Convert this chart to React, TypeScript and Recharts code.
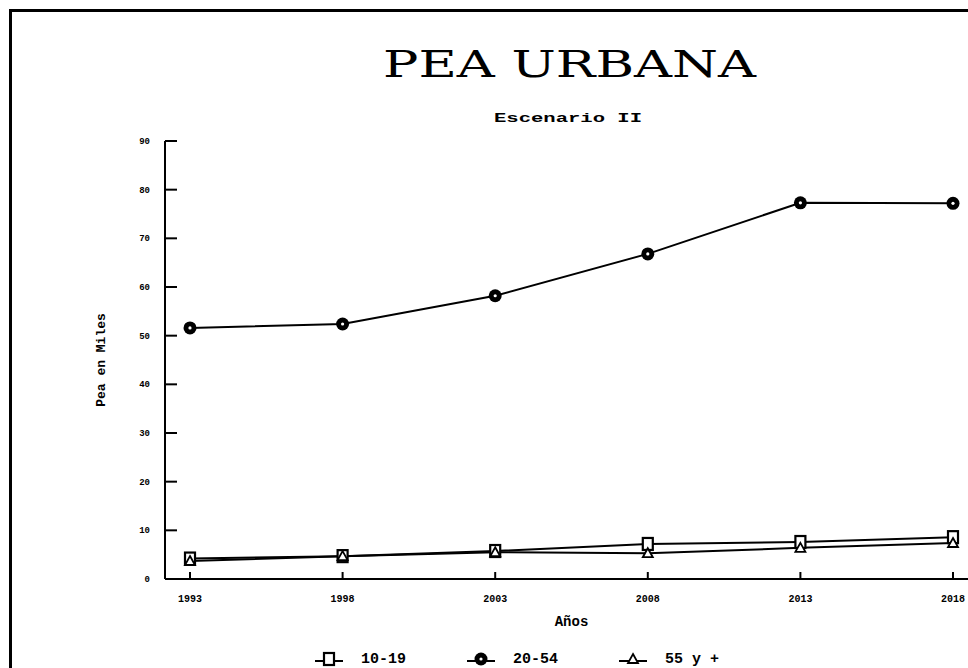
import React from "react";
import { Legend, Line, LineChart, XAxis, YAxis } from "recharts";

const years = ["1993", "1998", "2003", "2008", "2013", "2018"];
const edad1019 = [4.2, 4.7, 5.75, 7.2, 7.6, 8.6];
const edad2054 = [51.6, 52.4, 58.2, 66.8, 77.3, 77.2];
const edad55 = [3.7, 4.7, 5.5, 5.3, 6.4, 7.4];
const yTicks = [0, 10, 20, 30, 40, 50, 60, 70, 80, 90];

const series = [
  { key: "a", name: "10-19", shape: "square" },
  { key: "b", name: "20-54", shape: "circle" },
  { key: "c", name: "55 y +", shape: "triangle" },
];

const data = years.map((year, i) => ({
  year,
  a: edad1019[i],
  b: edad2054[i],
  c: edad55[i],
}));

const mono = "'Liberation Mono', 'DejaVu Sans Mono', monospace";

function Mark({ shape, cx, cy }: { shape: string; cx: number; cy: number }) {
  if (shape === "square")
    return <rect x={cx - 5} y={cy - 6} width={10} height={12} fill="#fff" stroke="#000" strokeWidth={2.2} />;
  if (shape === "circle")
    return (
      <g>
        <circle cx={cx} cy={cy} r={6.5} fill="#000" />
        <circle cx={cx} cy={cy} r={1.6} fill="#fff" />
      </g>
    );
  return <path d={`M${cx},${cy - 5}L${cx + 5},${cy + 4}L${cx - 5},${cy + 4}Z`} fill="#fff" stroke="#000" strokeWidth={1.8} />;
}

const YTick = (props: any) => {
  const { x, y, payload } = props;
  return (
    <g>
      {payload.value > 0 && <line x1={x + 15} x2={x + 27} y1={y} y2={y} stroke="#000" strokeWidth={2} />}
      <text x={x} y={y} dy={3} textAnchor="end" fontFamily={mono} fontWeight="bold" fontSize={9} fill="#000">
        {payload.value}
      </text>
    </g>
  );
};

const XTick = (props: any) => {
  const { x, y, payload } = props;
  return (
    <g>
      <line x1={x} x2={x} y1={y - 14} y2={y - 21} stroke="#000" strokeWidth={2} />
      <text x={x} y={y} dy={9} textAnchor="middle" fontFamily={mono} fontWeight="bold" fontSize={10} fill="#000">
        {payload.value}
      </text>
    </g>
  );
};

const LegendContent = () => (
  <svg width={460} height={24}>
    {series.map((s, i) => {
      const x0 = i * 152;
      return (
        <g key={s.key}>
          <line x1={x0} x2={x0 + 28} y1={15} y2={15} stroke="#000" strokeWidth={2} />
          <Mark shape={s.shape} cx={x0 + 14} cy={13} />
          <text x={x0 + 46} y={17} fontFamily={mono} fontWeight="bold" fontSize={15} fill="#000">
            {s.name}
          </text>
        </g>
      );
    })}
  </svg>
);

export default function App() {
  return (
    <div style={{ position: "fixed", left: 0, top: 0, width: 968, height: 668, overflow: "hidden", background: "#fff" }}>
      <div
        style={{
          position: "absolute",
          left: 9,
          top: 9,
          width: 1100,
          height: 800,
          border: "3px solid #000",
        }}
      />
      <div style={{ position: "absolute", left: 0, top: 0 }}>
        <LineChart width={1000} height={668} data={data} margin={{ top: 141, right: 22, left: 0, bottom: 35 }}>
          <XAxis
            dataKey="year"
            height={30}
            padding={{ left: 25, right: 25 }}
            tickLine={false}
            tickSize={0}
            tickMargin={14}
            tick={<XTick />}
            axisLine={{ stroke: "#000", strokeWidth: 2 }}
            label={{ value: "Años", position: "bottom", offset: 7, fontFamily: mono, fontWeight: "bold", fontSize: 14, fill: "#000" }}
          />
          <XAxis
            xAxisId="top"
            dataKey="year"
            orientation="top"
            height={0}
            tick={false}
            tickLine={false}
            axisLine={{ stroke: "#000", strokeWidth: 2 }}
          />
          <YAxis
            width={165}
            domain={[0, 90]}
            ticks={yTicks}
            interval={0}
            tickLine={false}
            tickSize={0}
            tickMargin={15}
            tick={<YTick />}
            axisLine={{ stroke: "#000", strokeWidth: 2 }}
            label={{ value: "Pea en Miles", angle: -90, position: "center", dx: 18, fontFamily: mono, fontWeight: "bold", fontSize: 13, fill: "#000" }}
          />
          <Legend verticalAlign="bottom" content={<LegendContent />} wrapperStyle={{ top: 646, left: 315, width: 460, height: 24 }} />
          {series.map((s) => (
            <Line
              key={s.key}
              dataKey={s.key}
              name={s.name}
              type="linear"
              stroke="#000"
              strokeWidth={2}
              isAnimationActive={false}
              dot={(p: any) => <Mark key={`${s.key}-${p.index}`} shape={s.shape} cx={p.cx} cy={p.cy} />}
              activeDot={false}
            />
          ))}
        </LineChart>
      </div>
      <svg width={968} height={668} style={{ position: "absolute", left: 0, top: 0, pointerEvents: "none" }}>
        <text x={383} y={77} textLength={373} lengthAdjust="spacingAndGlyphs" fontFamily="'DejaVu Serif', serif" fontSize={38} fill="#000">
          PEA URBANA
        </text>
        <text x={494} y={122} textLength={148} lengthAdjust="spacingAndGlyphs" fontFamily={mono} fontWeight="bold" fontSize={13} fill="#000">
          Escenario II
        </text>
      </svg>
    </div>
  );
}
